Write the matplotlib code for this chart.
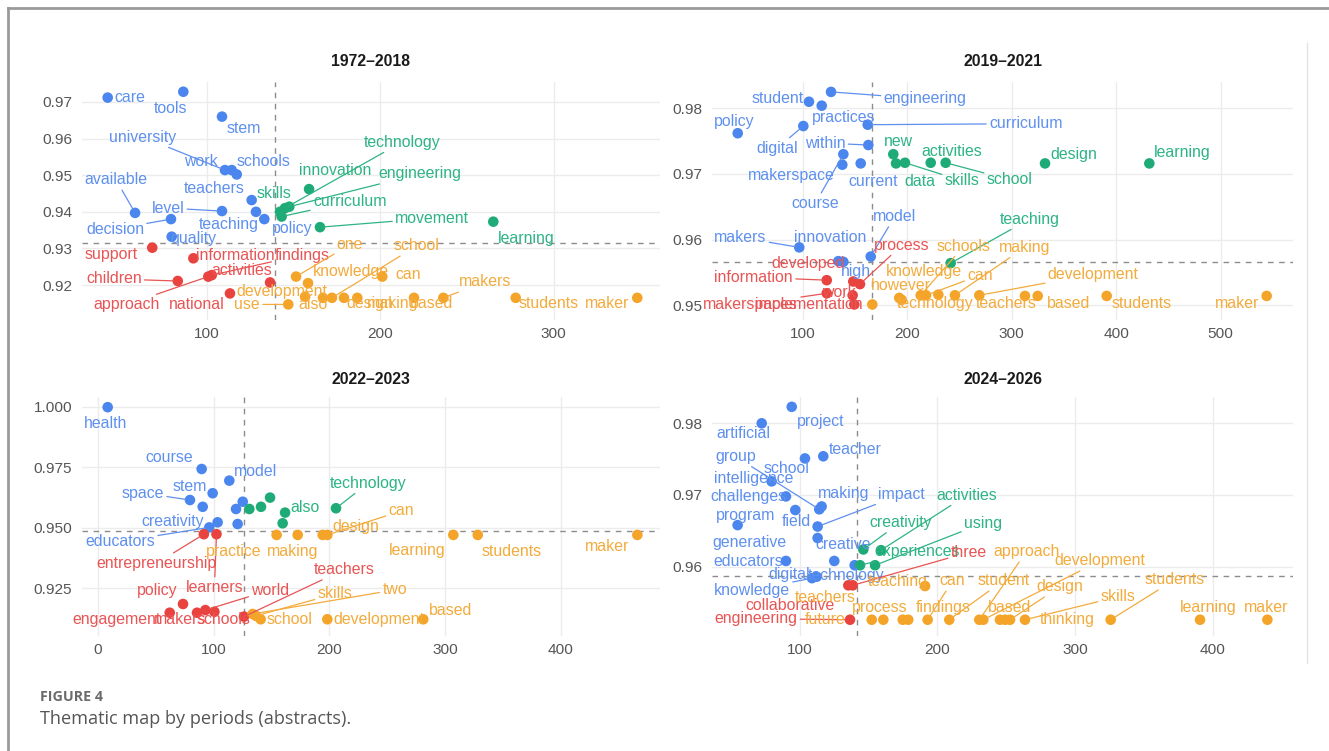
import matplotlib
matplotlib.use("Agg")
import matplotlib.pyplot as plt
from matplotlib.lines import Line2D

# ------------------------------------------------------------------
# Thematic map data: each word has a relevance (x) and a density (y)
# score; clusters: 1 = blue, 2 = green, 3 = red, 4 = orange.
# ------------------------------------------------------------------
PERIODS = ["1972–2018", "2019–2021", "2022–2023", "2024–2026"]

# 1972–2018
P1_WORDS = ["care", "tools", "stem", "university", "work", "schools", "available", "teachers",
            "level", "decision", "quality", "teaching", "policy",
            "skills", "curriculum", "engineering", "technology", "innovation", "movement", "learning",
            "support", "information", "findings", "children", "activities", "approach", "national",
            "one", "school", "knowledge", "can", "development", "use", "also", "design", "making",
            "based", "makers", "students", "maker"]
P1_X = [42.9, 86.5, 108.8, 110.5, 114.4, 117.3, 58.7, 125.9, 108.8, 79.4, 79.8, 128.4, 133.2,
        142.2, 143.2, 147.6, 145.1, 159.0, 165.3, 265.2,
        68.6, 92.3, 102.9, 83.3, 136.5, 100.9, 113.4,
        151.5, 172.2, 158.4, 201.2, 156.7, 147.0, 167.0, 179.1, 186.8, 219.5, 236.4, 278.1, 348.2]
P1_Y = [0.9712, 0.9728, 0.9660, 0.9514, 0.9514, 0.9502, 0.9397, 0.9432, 0.9402, 0.9380, 0.9332,
        0.9400, 0.9380,
        0.9400, 0.9387, 0.9414, 0.9410, 0.9462, 0.9358, 0.9373,
        0.9302, 0.9273, 0.9227, 0.9211, 0.9207, 0.9223, 0.9177,
        0.9223, 0.9165, 0.9205, 0.9223, 0.9168, 0.9147, 0.9165, 0.9165, 0.9165, 0.9165, 0.9165,
        0.9165, 0.9165]
P1_CLUSTER = [1, 1, 1, 1, 1, 1, 1, 1, 1, 1, 1, 1, 1,
              2, 2, 2, 2, 2, 2, 2,
              3, 3, 3, 3, 3, 3, 3,
              4, 4, 4, 4, 4, 4, 4, 4, 4, 4, 4, 4, 4]

# 2019–2021
P2_WORDS = ["student", "engineering", "practices", "policy", "curriculum", "digital", "within",
            "course", "makerspace", "current", "model", "makers", "innovation", "high",
            "new", "data", "skills", "activities", "school", "design", "learning", "teaching",
            "developed", "information", "process", "work", "makerspaces", "implementation",
            "however", "technology", "knowledge", "schools", "can", "", "making", "development",
            "teachers", "based", "students", "maker"]
P2_X = [106.0, 127.1, 118.2, 37.8, 162.2, 100.6, 162.8, 138.9, 137.9, 155.5, 165.1, 96.7, 134.1,
        138.9,
        186.7, 189.3, 197.9, 222.5, 236.8, 331.9, 431.7, 241.6,
        148.4, 123.0, 154.8, 147.8, 123.0, 149.4,
        166.6, 192.4, 194.7, 212.9, 218.0, 229.8, 245.7, 269.0, 312.7, 324.9, 390.9, 544.0]
P2_Y = [0.9810, 0.9825, 0.9804, 0.9762, 0.9775, 0.9773, 0.9744, 0.9730, 0.9714, 0.9716, 0.9574,
        0.9588, 0.9567, 0.9566,
        0.9730, 0.9716, 0.9717, 0.9717, 0.9717, 0.9716, 0.9716, 0.9564,
        0.9536, 0.9538, 0.9532, 0.9515, 0.9518, 0.9501,
        0.9501, 0.9511, 0.9508, 0.9515, 0.9515, 0.9516, 0.9515, 0.9515, 0.9514, 0.9514, 0.9514,
        0.9514]
P2_CLUSTER = [1, 1, 1, 1, 1, 1, 1, 1, 1, 1, 1, 1, 1, 1,
              2, 2, 2, 2, 2, 2, 2, 2,
              3, 3, 3, 3, 3, 3,
              4, 4, 4, 4, 4, 4, 4, 4, 4, 4, 4, 4]

# 2022–2023
P3_WORDS = ["health", "course", "model", "stem", "space", "educators", "creativity", "", "", "", "",
            "also", "technology", "", "", "", "",
            "entrepreneurship", "learners", "policy", "engagement", "makers", "schools", "world",
            "teachers",
            "practice", "making", "design", "can", "learning", "students", "maker", "two", "skills",
            "school", "development", "based"]
P3_X = [8.5, 89.7, 113.6, 99.2, 79.6, 96.3, 103.5, 90.6, 125.2, 119.4, 120.8,
        161.8, 205.8, 130.9, 141.0, 148.8, 159.7,
        91.6, 102.5, 73.6, 62.1, 85.7, 100.7, 92.9, 126.3,
        154.5, 172.7, 194.3, 198.3, 307.2, 328.3, 466.2, 133.8, 136.6, 140.7, 198.3, 281.2]
P3_Y = [0.9998, 0.9743, 0.9695, 0.9643, 0.9615, 0.9502, 0.9523, 0.9587, 0.9608, 0.9578, 0.9516,
        0.9563, 0.9581, 0.9578, 0.9587, 0.9625, 0.9519,
        0.9474, 0.9474, 0.9186, 0.9150, 0.9150, 0.9154, 0.9161, 0.9134,
        0.9471, 0.9471, 0.9471, 0.9471, 0.9471, 0.9471, 0.9471, 0.9145, 0.9137, 0.9123, 0.9123,
        0.9123]
P3_CLUSTER = [1, 1, 1, 1, 1, 1, 1, 1, 1, 1, 1,
              2, 2, 2, 2, 2, 2,
              3, 3, 3, 3, 3, 3, 3, 3,
              4, 4, 4, 4, 4, 4, 4, 4, 4, 4, 4, 4]

# 2024–2026
P4_WORDS = ["project", "artificial", "school", "teacher", "intelligence", "challenges", "group",
            "making", "impact", "program", "field", "generative", "creative", "educators", "digital",
            "technology", "knowledge",
            "creativity", "activities", "using", "experiences",
            "three", "collaborative", "engineering",
            "teaching", "future", "teachers", "process", "findings", "can", "student", "approach",
            "development", "thinking", "based", "design", "skills", "students", "learning", "maker"]
P4_X = [94.3, 72.5, 103.9, 117.2, 79.7, 90.1, 114.3, 116.0, 113.1, 96.9, 113.1, 55.0, 125.2, 90.1,
        112.4, 140.0, 109.0,
        146.3, 159.1, 154.8, 143.9,
        138.6, 135.4, 136.6,
        191.1, 152.4, 160.8, 174.9, 178.9, 193.0, 208.7, 230.5, 233.4, 245.5, 249.2, 252.8, 263.7,
        325.9, 390.8, 439.7]
P4_Y = [0.9823, 0.9800, 0.9751, 0.9754, 0.9719, 0.9698, 0.9680, 0.9684, 0.9656, 0.9679, 0.9640,
        0.9658, 0.9608, 0.9608, 0.9586, 0.9602, 0.9584,
        0.9624, 0.9623, 0.9602, 0.9602,
        0.9574, 0.9574, 0.9526,
        0.9573, 0.9526, 0.9526, 0.9526, 0.9526, 0.9526, 0.9526, 0.9526, 0.9526, 0.9526, 0.9526,
        0.9526, 0.9526, 0.9526, 0.9526, 0.9526]
P4_CLUSTER = [1, 1, 1, 1, 1, 1, 1, 1, 1, 1, 1, 1, 1, 1, 1, 1, 1,
              2, 2, 2, 2,
              3, 3, 3,
              4, 4, 4, 4, 4, 4, 4, 4, 4, 4, 4, 4, 4, 4, 4, 4]

# Median relevance / density reference lines
REF_X = [139.4, 166.0, 126.3, 141.9]
REF_Y = [0.9316, 0.9565, 0.9487, 0.9587]

# Axis ticks
P1_XTICKS = [100, 200, 300]
P1_YTICKS = [0.92, 0.93, 0.94, 0.95, 0.96, 0.97]
P2_XTICKS = [100, 200, 300, 400, 500]
P2_YTICKS = [0.95, 0.96, 0.97, 0.98]
P3_XTICKS = [0, 100, 200, 300, 400]
P3_YTICKS = [0.925, 0.950, 0.975, 1.000]
P4_XTICKS = [100, 200, 300, 400]
P4_YTICKS = [0.96, 0.97, 0.98]

# ------------------------------------------------------------------
# Layout: label placement (pixel offset from the point, up = +y) and
# whether a leader segment is drawn.
# ------------------------------------------------------------------
P1_NUDGE = {
    "care": (22, 0, 0), "tools": (-13, -17, 0), "stem": (22, -12, 0), "university": (-82, 33, 1),
    "work": (-31, 9, 0), "schools": (27, 13, 0), "available": (-19, 33, 1), "teachers": (-37, 12, 0),
    "level": (-54, 3, 1), "decision": (-56, -10, 1), "quality": (22, -2, 0), "teaching": (-27, -13, 0),
    "policy": (28, -9, 0), "skills": (-6, 18, 0), "curriculum": (68, 15, 1),
    "engineering": (131, 33, 1), "technology": (117, 66, 1), "innovation": (26, 19, 0),
    "movement": (112, 9, 1), "learning": (33, -17, 0), "support": (-41, -7, 0),
    "information": (42, 3, 0), "findings": (90, 20, 1), "children": (-64, 2, 1),
    "activities": (-28, 12, 0), "approach": (-82, -28, 1), "national": (-33, -11, 0),
    "one": (54, 32, 1), "school": (85, 52, 1), "knowledge": (43, 12, 0), "can": (26, 2, 0),
    "development": (-23, 5, 0), "use": (-41, 0, 1), "also": (-10, -7, 0), "design": (26, -6, 0),
    "making": (35, -6, 0), "based": (18, -6, 0), "makers": (42, 16, 1), "students": (33, -6, 0),
    "maker": (-30, -6, 0),
}
P2_NUDGE = {
    "student": (-31, 3, 0), "engineering": (94, -7, 1), "practices": (22, -12, 0),
    "policy": (-3, 12, 0), "curriculum": (158, 1, 1), "digital": (-26, -22, 1),
    "within": (-43, 2, 1), "course": (-28, -49, 1), "makerspace": (-51, -11, 1),
    "current": (12, -18, 0), "model": (24, 40, 1), "makers": (-59, 10, 1),
    "innovation": (-8, 24, 0), "high": (13, -10, 0), "new": (5, 13, 0), "data": (24, -18, 0),
    "skills": (57, -18, 1), "activities": (21, 11, 0), "school": (64, -17, 1),
    "design": (29, 9, 0), "learning": (33, 11, 0), "teaching": (79, 44, 1),
    "developed": (-45, 18, 0), "information": (-73, 3, 1), "process": (42, 39, 1),
    "work": (-14, 3, 0), "makerspaces": (-76, -11, 1), "implementation": (-46, 0, 0),
    "however": (29, 19, 0), "technology": (36, -6, 0), "knowledge": (22, 28, 0),
    "schools": (43, 49, 1), "can": (54, 20, 1), "making": (70, 48, 1),
    "development": (114, 21, 1), "teachers": (-19, -8, 0), "based": (31, -8, 0),
    "students": (35, -8, 0), "maker": (-30, -8, 0),
}
P3_NUDGE = {
    "health": (-2, -16, 0), "course": (-32, 11, 0), "model": (26, 9, 0), "stem": (-23, 7, 0),
    "space": (-47, 7, 1), "educators": (-89, -14, 1), "creativity": (-45, 1, 0),
    "also": (20, 5, 0), "technology": (32, 25, 1), "entrepreneurship": (-47, -29, 1),
    "learners": (-2, -53, 1), "policy": (-26, 14, 0), "engagement": (-53, -7, 0),
    "makers": (-17, -7, 0), "schools": (9, -8, 0), "world": (65, 20, 1), "teachers": (100, 47, 1),
    "practice": (-43, -17, 0), "making": (-5, -17, 0), "design": (33, 8, 0), "can": (74, 24, 1),
    "learning": (-36, -16, 0), "students": (34, -17, 0), "maker": (-30, -12, 0),
    "two": (142, 24, 1), "skills": (79, 22, 1), "school": (29, 0, 0), "development": (51, 0, 0),
    "based": (27, 9, 0),
}
P4_NUDGE = {
    "project": (29, -15, 0), "artificial": (-18, -10, 0), "group": (-84, 53, 1),
    "school": (-18, -10, 0), "teacher": (32, 7, 0), "intelligence": (-18, 3, 0),
    "challenges": (-38, 0, 0), "making": (22, 13, 0), "impact": (84, 32, 1),
    "program": (-50, -5, 0), "field": (-21, 17, 0), "generative": (12, -17, 0),
    "creative": (9, 16, 0), "educators": (-38, -1, 0), "digital": (-27, 2, 0),
    "technology": (-9, -10, 0), "knowledge": (-60, -12, 1), "creativity": (37, 27, 1),
    "activities": (86, 55, 1), "using": (108, 42, 1), "experiences": (57, 14, 1),
    "three": (116, 33, 1), "collaborative": (-58, -20, 0), "engineering": (-94, 1, 1),
    "teaching": (-27, 5, 0), "future": (-47, 0, 0), "teachers": (-58, 22, 0),
    "process": (-23, 12, 0), "findings": (35, 12, 0), "can": (25, 39, 1), "student": (54, 39, 1),
    "approach": (47, 68, 1), "development": (117, 59, 1), "thinking": (67, 0, 0),
    "based": (5, 12, 0), "design": (50, 33, 1), "skills": (93, 23, 1), "students": (64, 40, 1),
    "learning": (8, 12, 0), "maker": (-1, 12, 0),
}

# ------------------------------------------------------------------
# Styling
# ------------------------------------------------------------------
POINT_COLORS = {1: "#4a86ee", 2: "#1fab78", 3: "#e9433f", 4: "#f4a428"}
LABEL_COLORS = {1: "#5e90ef", 2: "#2db484", 3: "#e95454", 4: "#f3ab3c"}

FAMILY = ["Liberation Sans", "DejaVu Sans"]
LABEL_SIZE = 11.4
TICK_SIZE = 11.1
TITLE_SIZE = 11.3

W, H = 1329, 751
fig = plt.figure(figsize=(W / 100, H / 100), dpi=100)
fig.patch.set_facecolor("white")


def px_axes(left, top, right, bottom):
    return [left / W, 1 - bottom / H, (right - left) / W, (bottom - top) / H]


PANELS = [
    dict(rect=px_axes(82, 82, 660, 320), xlim=(28.1, 361.3), ylim=(0.91044, 0.97546),
         words=P1_WORDS, xs=P1_X, ys=P1_Y, cl=P1_CLUSTER, nudge=P1_NUDGE,
         xt=P1_XTICKS, yt=P1_YTICKS, yfmt="{:.2f}", title_y=62),
    dict(rect=px_axes(712, 82, 1293, 320), xlim=(13.2, 569.2), ylim=(0.94773, 0.98401),
         words=P2_WORDS, xs=P2_X, ys=P2_Y, cl=P2_CLUSTER, nudge=P2_NUDGE,
         xt=P2_XTICKS, yt=P2_YTICKS, yfmt="{:.2f}", title_y=62),
    dict(rect=px_axes(82, 397, 660, 636), xlim=(-13.7, 485.8), ylim=(0.90540, 1.0040),
         words=P3_WORDS, xs=P3_X, ys=P3_Y, cl=P3_CLUSTER, nudge=P3_NUDGE,
         xt=P3_XTICKS, yt=P3_YTICKS, yfmt="{:.3f}", title_y=379),
    dict(rect=px_axes(712, 397, 1293, 636), xlim=(36.4, 458.3), ylim=(0.95033, 0.98367),
         words=P4_WORDS, xs=P4_X, ys=P4_Y, cl=P4_CLUSTER, nudge=P4_NUDGE,
         xt=P4_XTICKS, yt=P4_YTICKS, yfmt="{:.2f}", title_y=379),
]

for i, p in enumerate(PANELS):
    ax = fig.add_axes(p["rect"])
    ax.set_xlim(*p["xlim"])
    ax.set_ylim(*p["ylim"])
    for s in ax.spines.values():
        s.set_visible(False)
    ax.set_xticks(p["xt"])
    ax.set_yticks(p["yt"])
    ax.set_xticklabels([str(t) for t in p["xt"]], family=FAMILY, fontsize=TICK_SIZE, color="#555555")
    ax.set_yticklabels([p["yfmt"].format(t) for t in p["yt"]], family=FAMILY, fontsize=TICK_SIZE,
                       color="#555555")
    ax.tick_params(length=0, pad=5)
    ax.tick_params(axis="y", pad=7)
    ax.grid(True, color="#ececec", linewidth=1.0, zorder=0)
    ax.set_axisbelow(True)

    ax.axvline(REF_X[i], color="#8c8c8c", linewidth=1.0, linestyle=(0, (4, 4)), zorder=1)
    ax.axhline(REF_Y[i], color="#8c8c8c", linewidth=1.0, linestyle=(0, (4, 4)), zorder=1)

    for c in (1, 2, 3, 4):
        xs = [x for x, k in zip(p["xs"], p["cl"]) if k == c]
        ys = [y for y, k in zip(p["ys"], p["cl"]) if k == c]
        ax.scatter(xs, ys, s=58, color=POINT_COLORS[c], edgecolors="none", zorder=4)

    for w, x, y, c in zip(p["words"], p["xs"], p["ys"], p["cl"]):
        if not w:
            continue
        dx, dy, seg = p["nudge"][w]
        arrow = None
        if seg:
            arrow = dict(arrowstyle="-", color=LABEL_COLORS[c], lw=0.9, shrinkA=0, shrinkB=3)
        ax.annotate(w, xy=(x, y), xytext=(dx, dy), textcoords="offset pixels",
                    ha="center", va="center", family=FAMILY, fontsize=LABEL_SIZE,
                    color=LABEL_COLORS[c], arrowprops=arrow, zorder=5, annotation_clip=False)

    cx = (p["rect"][0] + p["rect"][2] / 2)
    fig.text(cx, 1 - p["title_y"] / H, PERIODS[i], ha="center", va="center", family=FAMILY,
             fontsize=TITLE_SIZE, fontweight="bold", color="#1a1a1a")

# Page frame and caption
fig.add_artist(Line2D([8 / W, 1.0], [1 - 7.5 / H, 1 - 7.5 / H], color="#9a9a9a", lw=2.0))
fig.add_artist(Line2D([8 / W, 8 / W], [0.0, 1 - 7.5 / H], color="#9a9a9a", lw=2.0))
fig.add_artist(Line2D([1307 / W, 1307 / W], [1 - 663 / H, 1 - 43 / H], color="#e4e4e4", lw=1.0))

fig.text(40 / W, 1 - 697 / H, "FIGURE 4", ha="left", va="center", family=["Open Sans", "DejaVu Sans"],
         fontsize=10.3, fontweight="bold", color="#6b6b6b")
fig.text(40 / W, 1 - 719 / H, "Thematic map by periods (abstracts).", ha="left", va="center",
         family=["Open Sans", "DejaVu Sans"], fontsize=13.1, color="#555555")

fig.savefig("out.png", dpi=100, facecolor="white")
